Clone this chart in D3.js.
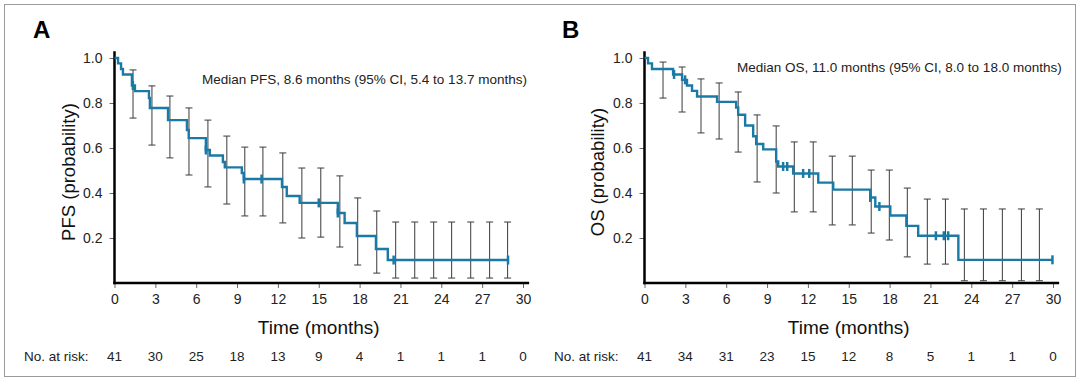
<!DOCTYPE html>
<html>
<head>
<meta charset="utf-8">
<script src="https://cdn.jsdelivr.net/npm/d3@7"></script>
<style>
  html, body { margin: 0; padding: 0; background: #fff; }
  svg { display: block; font-family: "Liberation Sans", Arial, sans-serif; }
</style>
</head>
<body>
<svg id="chart" width="1080" height="381"></svg>
<script>
// ---------- DATA ----------
const timeTicks = [0, 3, 6, 9, 12, 15, 18, 21, 24, 27, 30];
const probTicks = [0.2, 0.4, 0.6, 0.8, 1.0];

// Panel A: PFS
const pfsEventTimes = [0.26, 0.48, 0.62, 1.28, 1.5, 2.53, 2.6, 3.93, 5.32, 5.45, 6.71, 7.0, 7.96, 8.1, 9.35, 9.5, 12.3, 12.65, 13.6, 16.4, 16.9, 17.8, 19.2, 20.07];
const pfsSurvival   = [0.976, 0.951, 0.927, 0.878, 0.853, 0.822, 0.778, 0.724, 0.68, 0.644, 0.591, 0.567, 0.538, 0.514, 0.489, 0.462, 0.427, 0.387, 0.356, 0.311, 0.267, 0.209, 0.151, 0.102];
const pfsCensored   = [1.35, 6.71, 9.5, 10.8, 15.0, 16.4, 20.5, 28.9];
const pfsEnd = 28.9;
const pfsCiTimes = [1.36, 2.75, 4.07, 5.47, 6.86, 8.25, 9.57, 10.9, 12.36, 13.76, 15.15, 16.55, 17.86, 19.26, 20.65, 22.05, 23.44, 24.76, 26.16, 27.55, 28.87];
const pfsCiLow   = [0.733, 0.613, 0.556, 0.48, 0.427, 0.351, 0.298, 0.298, 0.267, 0.2, 0.204, 0.16, 0.08, 0.044, 0.022, 0.022, 0.022, 0.022, 0.022, 0.022, 0.022];
const pfsCiHigh  = [0.947, 0.876, 0.831, 0.778, 0.724, 0.653, 0.604, 0.604, 0.578, 0.511, 0.511, 0.476, 0.378, 0.32, 0.271, 0.271, 0.271, 0.271, 0.271, 0.271, 0.271];
const pfsRisk = [41, 30, 25, 18, 13, 9, 4, 1, 1, 1, 0];

// Panel B: OS
const osEventTimes = [0.26, 0.55, 2.1, 2.76, 3.12, 3.49, 3.86, 5.33, 6.73, 6.88, 7.39, 7.98, 8.2, 8.72, 9.67, 9.82, 10.92, 12.76, 13.86, 16.58, 16.95, 18.05, 19.23, 20.1, 23.05];
const osSurvival   = [0.976, 0.951, 0.927, 0.903, 0.878, 0.854, 0.829, 0.805, 0.78, 0.748, 0.70, 0.652, 0.618, 0.594, 0.54, 0.518, 0.487, 0.446, 0.415, 0.38, 0.34, 0.30, 0.254, 0.21, 0.103];
const osCensored   = [2.17, 2.98, 10.18, 10.48, 11.65, 12.1, 16.58, 17.25, 21.4, 21.98, 22.3, 29.96];
const osEnd = 29.96;
const osCiTimes = [1.36, 2.76, 4.15, 5.48, 6.88, 8.27, 9.67, 11.0, 12.39, 13.79, 15.26, 16.65, 17.98, 19.3, 20.77, 22.1, 23.49, 24.89, 26.28, 27.68, 29.0];
const osCiLow   = [0.822, 0.76, 0.667, 0.64, 0.582, 0.449, 0.4, 0.316, 0.316, 0.258, 0.258, 0.222, 0.191, 0.116, 0.084, 0.084, 0.01, 0.01, 0.01, 0.01, 0.01];
const osCiHigh  = [0.982, 0.96, 0.907, 0.889, 0.849, 0.747, 0.698, 0.627, 0.627, 0.564, 0.564, 0.502, 0.502, 0.422, 0.373, 0.373, 0.329, 0.329, 0.329, 0.329, 0.329];
const osRisk = [41, 34, 31, 23, 15, 12, 8, 5, 1, 1, 0];

const panelLabels = ["A", "B"];
const yLabels = ["PFS (probability)", "OS (probability)"];
const medianTexts = [
  "Median PFS, 8.6 months (95% CI, 5.4 to 13.7 months)",
  "Median OS, 11.0 months (95% CI, 8.0 to 18.0 months)"
];
const xLabel = "Time (months)";
const riskLabel = "No. at risk:";

// ---------- DRAW ----------
const svg = d3.select("#chart");
const curveColor = "#1b79a6";

svg.append("rect")
  .attr("x", 4.5).attr("y", 4.5)
  .attr("width", 1071).attr("height", 372)
  .attr("fill", "none").attr("stroke", "#9a9a9a").attr("stroke-width", 1);

const panels = [
  { x0: 114.5, events: pfsEventTimes, surv: pfsSurvival, cens: pfsCensored, end: pfsEnd,
    ciT: pfsCiTimes, ciL: pfsCiLow, ciH: pfsCiHigh, risk: pfsRisk,
    label: panelLabels[0], ylab: yLabels[0], median: medianTexts[0],
    labX: 33, ylabX: 68, medX: 202, medY: 84, riskX: 24 },
  { x0: 644.5, events: osEventTimes, surv: osSurvival, cens: osCensored, end: osEnd,
    ciT: osCiTimes, ciL: osCiLow, ciH: osCiHigh, risk: osRisk,
    label: panelLabels[1], ylab: yLabels[1], median: medianTexts[1],
    labX: 562, ylabX: 597, medX: 737, medY: 72, riskX: 554 }
];

panels.forEach(p => {
  const x = d3.scaleLinear().domain([0, 30]).range([p.x0, p.x0 + 408.5]);
  const y = d3.scaleLinear().domain([0, 1]).range([283, 58]);
  const g = svg.append("g");

  // panel letter
  g.append("text").attr("x", p.labX).attr("y", 38)
    .attr("font-size", 24).attr("font-weight", "bold").attr("fill", "#000")
    .text(p.label);

  // y axis
  const yAxis = d3.axisLeft(y).tickValues(probTicks).tickFormat(d3.format(".1f")).tickSize(5).tickPadding(7);
  const ya = g.append("g").attr("transform", `translate(${p.x0},0)`).call(yAxis);
  ya.select(".domain").remove();
  ya.selectAll(".tick line").attr("stroke", "#666");
  ya.selectAll(".tick text").attr("font-size", 14).attr("fill", "#222")
    .attr("font-family", "'Liberation Sans', Arial, sans-serif");

  // x axis
  const xAxis = d3.axisBottom(x).tickValues(timeTicks).tickSize(5).tickPadding(6);
  const xa = g.append("g").attr("transform", "translate(0,283)").call(xAxis);
  xa.select(".domain").remove();
  xa.selectAll(".tick line").attr("stroke", "#666");
  xa.selectAll(".tick text").attr("font-size", 14).attr("fill", "#222")
    .attr("font-family", "'Liberation Sans', Arial, sans-serif");

  // axis lines (thick)
  g.append("line").attr("x1", p.x0).attr("x2", p.x0).attr("y1", y(1.03)).attr("y2", 284.2)
    .attr("stroke", "#000").attr("stroke-width", 2.5);
  g.append("line").attr("x1", p.x0 - 1.2).attr("x2", x(30.45)).attr("y1", 283).attr("y2", 283)
    .attr("stroke", "#000").attr("stroke-width", 2.5);

  // y label
  g.append("text")
    .attr("transform", `translate(${p.ylabX},${172}) rotate(-90)`)
    .attr("text-anchor", "middle").attr("dominant-baseline", "central")
    .attr("font-size", 18.5).attr("fill", "#111").text(p.ylab);

  // x label
  g.append("text").attr("x", x(15)).attr("y", 334)
    .attr("text-anchor", "middle").attr("font-size", 19).attr("fill", "#111").text(xLabel);

  // median text
  g.append("text").attr("x", p.medX).attr("y", p.medY)
    .attr("font-size", 13.5).attr("fill", "#222").text(p.median);

  // number at risk
  g.append("text").attr("x", p.riskX).attr("y", 361)
    .attr("font-size", 13.5).attr("fill", "#222").text(riskLabel);
  g.selectAll(".risk").data(p.risk).enter().append("text")
    .attr("x", (d, i) => x(timeTicks[i])).attr("y", 361)
    .attr("text-anchor", "middle").attr("font-size", 13.5).attr("fill", "#222")
    .text(d => d);

  // error bars
  const ci = p.ciT.map((t, i) => ({ t, lo: p.ciL[i], hi: p.ciH[i] }));
  const eb = g.append("g").attr("stroke", "#3a3a3a").attr("stroke-width", 1);
  eb.selectAll(".v").data(ci).enter().append("line")
    .attr("x1", d => x(d.t)).attr("x2", d => x(d.t))
    .attr("y1", d => y(d.hi)).attr("y2", d => y(d.lo));
  eb.selectAll(".ct").data(ci).enter().append("line")
    .attr("x1", d => x(d.t) - 3.5).attr("x2", d => x(d.t) + 3.5)
    .attr("y1", d => y(d.hi)).attr("y2", d => y(d.hi));
  eb.selectAll(".cb").data(ci).enter().append("line")
    .attr("x1", d => x(d.t) - 3.5).attr("x2", d => x(d.t) + 3.5)
    .attr("y1", d => y(d.lo)).attr("y2", d => y(d.lo));

  // KM step curve
  const pts = [[0, 1]].concat(p.events.map((t, i) => [t, p.surv[i]]));
  pts.push([p.end, p.surv[p.surv.length - 1]]);
  const line = d3.line().x(d => x(d[0])).y(d => y(d[1])).curve(d3.curveStepAfter);
  g.append("path").attr("d", line(pts)).attr("fill", "none")
    .attr("stroke", curveColor).attr("stroke-width", 2.4);

  // censor marks
  const survAt = t => {
    let s = 1;
    p.events.forEach((e, i) => { if (e <= t) s = p.surv[i]; });
    return s;
  };
  g.selectAll(".cens").data(p.cens).enter().append("line")
    .attr("x1", d => x(d)).attr("x2", d => x(d))
    .attr("y1", d => y(survAt(d)) - 4.5).attr("y2", d => y(survAt(d)) + 4.5)
    .attr("stroke", curveColor).attr("stroke-width", 2.5);
});
</script>
</body>
</html>
